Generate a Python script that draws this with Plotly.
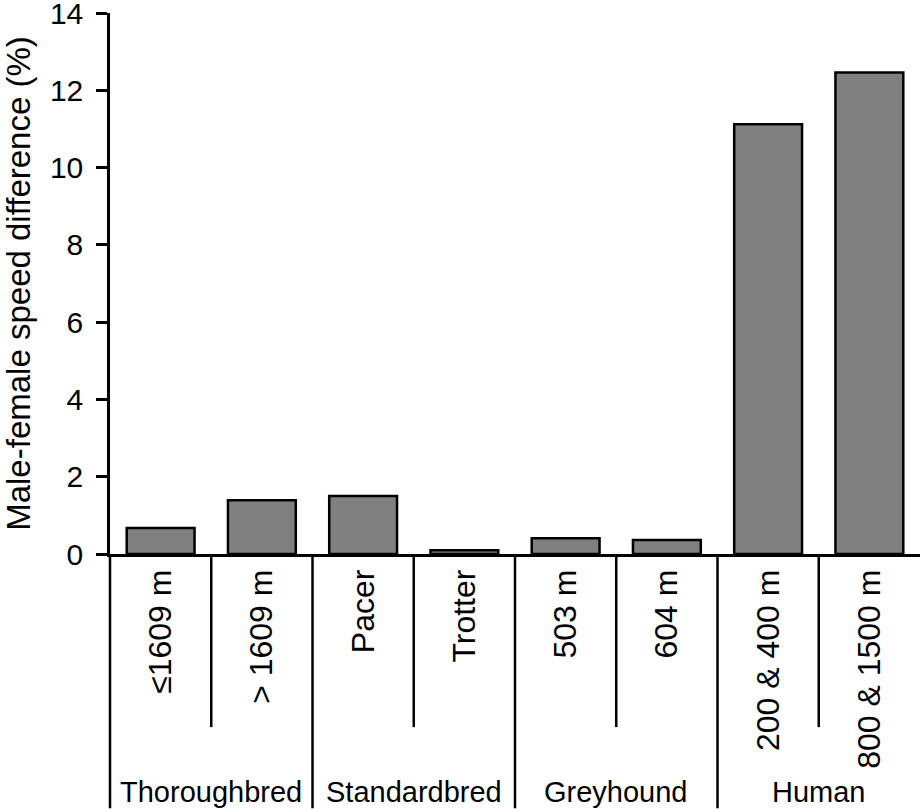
import plotly.graph_objects as go

# ── Données ─────────────────────────────────────────────────
categories = ["≤1609 m", "> 1609 m", "Pacer", "Trotter",
              "503 m", "604 m", "200 & 400 m", "800 & 1500 m"]
groupes = ["Thoroughbred", "Thoroughbred", "Standardbred", "Standardbred",
           "Greyhound", "Greyhound", "Human", "Human"]
difference = [0.67, 1.39, 1.50, 0.10, 0.41, 0.36, 11.12, 12.46]

y_ticks = [0, 2, 4, 6, 8, 10, 12, 14]

FONT = "Liberation Sans, Arial, Helvetica, sans-serif"
NOIR = "#000000"

fig = go.Figure()
fig.add_bar(
    x=list(range(len(categories))),
    y=difference,
    width=0.67,
    marker=dict(color="#808080", line=dict(color=NOIR, width=2.5)),
)

# ── Séparateurs et libellés de groupes ──────────────────────
shapes = []
annotations = []
debut = 0
for i in range(1, len(groupes) + 1):
    if i == len(groupes) or groupes[i] != groupes[debut]:
        annotations.append(dict(
            x=(debut + i - 1) / 2, y=-0.44, xref="x", yref="paper",
            xanchor="center", yanchor="middle",
            text=groupes[debut], showarrow=False,
            font=dict(size=29, color=NOIR, family=FONT),
        ))
        if i < len(groupes):
            shapes.append(dict(type="line", xref="x", yref="paper",
                               x0=i - 0.5, x1=i - 0.5, y0=0, y1=-0.47,
                               line=dict(color=NOIR, width=2.5)))
        debut = i
    else:
        shapes.append(dict(type="line", xref="x", yref="paper",
                           x0=i - 0.5, x1=i - 0.5, y0=0, y1=-0.32,
                           line=dict(color=NOIR, width=2.5)))
# prolongement de l'axe y vers le bas
shapes.append(dict(type="line", xref="paper", yref="paper",
                   x0=0, x1=0, y0=0, y1=-0.47,
                   line=dict(color=NOIR, width=2.5)))

fig.update_layout(
    width=923, height=809,
    margin=dict(l=110, r=3, t=13, b=255, autoexpand=False),
    paper_bgcolor="white", plot_bgcolor="white",
    font=dict(family=FONT, size=32, color=NOIR),
    showlegend=False,
    shapes=shapes,
    annotations=annotations,
    xaxis=dict(
        range=[-0.5, len(categories) - 0.5],
        tickmode="array",
        tickvals=list(range(len(categories))),
        ticktext=categories,
        tickangle=-90,
        tickfont=dict(size=32),
        ticks="",
        automargin=False,
        showline=True, linecolor=NOIR, linewidth=2.5,
        showgrid=False, zeroline=False,
        ticklabelstandoff=0,
    ),
    yaxis=dict(
        range=[0, 14],
        tickmode="array",
        tickvals=y_ticks,
        tickfont=dict(size=30),
        ticklabeloverflow="allow",
        ticklabelstandoff=7,
        automargin=False,
        ticks="outside", ticklen=11, tickwidth=2.5, tickcolor=NOIR,
        showline=True, linecolor=NOIR, linewidth=2.5,
        showgrid=False, zeroline=False,
        title=dict(text="Male-female speed difference (%)",
                   font=dict(size=33), standoff=10),
    ),
)

fig.write_html("out.html",
               config={"displayModeBar": False},
               post_script="document.body.style.margin='0px';"
                           "document.body.style.overflow='hidden';")
